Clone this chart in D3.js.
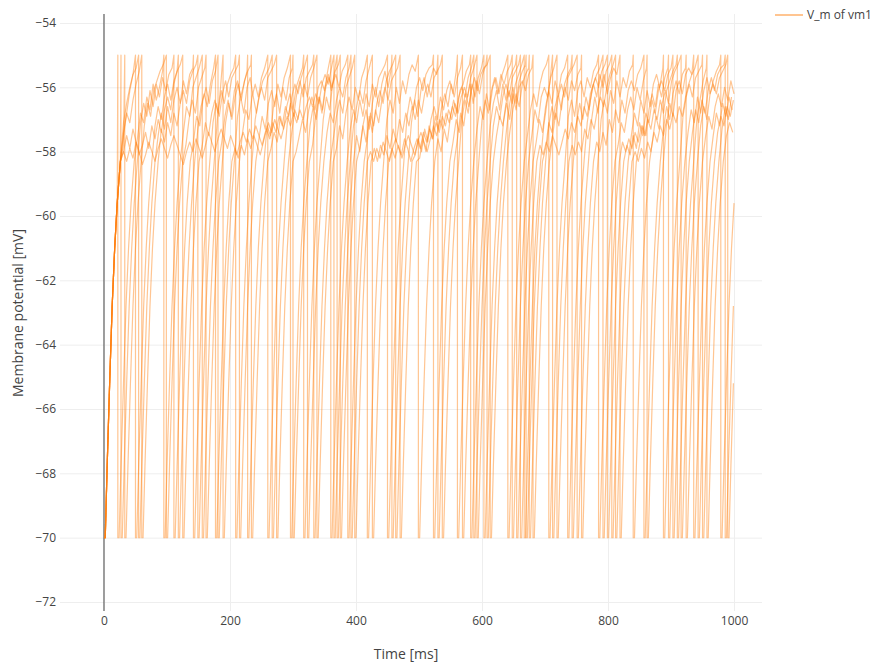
<!DOCTYPE html>
<html>
<head>
<meta charset="utf-8">
<script src="https://cdn.jsdelivr.net/npm/d3@7"></script>
<style>
  body { margin: 0; background: #fff; }
  svg { font-family: "Open Sans", sans-serif; }
</style>
</head>
<body>
<svg id="vm-chart"></svg>
<script>
/*--------------------------------------------------------------------------------
----- MEMBRANE POTENTIAL TRACES (V_m of vm1)
--------------------------------------------------------------------------------*/

// Threshold, reset value and simulation end
const v_threshold = -55, v_reset = -70, t_end = 1000;

// Shape of the rise after a reset (ms after reset / mV)
const rise_offsets = [0, 2, 5, 9, 13, 17, 21, 26];
const rise_values = [-70, -70, -67.8, -65.2, -62.8, -61.0, -59.6, -58.3];

// Time between two plateau samples (ms)
const plateau_step = 5;

// Spike times (ms) of each recorded neuron
const n0_spikes = [22, 95, 156, 228, 300, 370, 457, 530, 608, 670, 743, 819, 896, 979];
const n1_spikes = [27, 111, 181, 267, 338, 418, 499, 582, 655, 736, 806, 888, 950];
const n2_spikes = [33, 99, 162, 234, 317, 387, 463, 561, 641, 706, 785, 862, 936];
const n3_spikes = [50, 125, 209, 274, 360, 450, 523, 603, 681, 758, 840, 916, 990];
const n4_spikes = [55, 142, 215, 296, 375, 470, 569, 648, 719, 799, 903, 986];
const n5_spikes = [60, 149, 189, 260, 333, 398, 537, 613, 675, 751, 857, 924];
const n6_spikes = [118, 177, 323, 392, 587, 661, 792, 910, 957];
const n7_spikes = [365, 426, 592, 667, 712, 812, 943];

// Sub-threshold samples (mV) between two spikes, one list per interval
const n0_plateau = [
    [],
    [-57.6, -56.8, -57.1, -56.3, -56.7, -55.9, -56.4, -56.0, -55.5],
    [-57.4, -56.6, -56.9, -56.0, -55.7, -55.4],
    [-57.7, -56.9, -56.4, -56.9, -56.1, -55.8, -56.3, -55.9, -55.5],
    [-57.2, -57.5, -56.6, -56.2, -56.8, -56.0, -56.4, -55.7, -55.4],
    [-57.8, -56.9, -56.3, -56.8, -56.0, -55.6, -56.1, -55.5],
    [-57.5, -58.0, -57.2, -56.7, -57.3, -56.5, -56.0, -56.6, -55.9, -55.5, -56.0, -55.4],
    [-57.1, -56.4, -56.9, -56.1, -55.7, -56.3, -55.8, -55.4, -55.6],
    [-57.6, -56.8, -57.2, -56.4, -55.9, -56.5, -55.8, -56.2, -55.6, -55.3],
    [-57.3, -56.5, -56.0, -56.5, -55.8, -55.5, -55.3],
    [-57.9, -57.1, -57.4, -56.6, -56.2, -56.7, -55.9, -55.6, -55.4],
    [-57.0, -56.3, -56.8, -56.0, -55.6, -56.2, -55.7, -55.4, -55.6],
    [-57.8, -57.2, -57.5, -56.7, -56.2, -56.6, -55.9, -56.3, -55.7, -55.4],
    [-57.4, -56.7, -57.1, -56.3, -56.8, -56.1, -55.7, -56.2, -55.8, -55.5, -55.3],
    []
];
const n1_plateau = [
    [],
    [-57.1, -56.5, -56.9, -56.1, -56.6, -55.9, -56.3, -55.7, -56.1, -55.6, -55.4],
    [-57.7, -56.9, -57.2, -56.4, -56.0, -56.5, -55.8, -55.5],
    [-56.9, -56.3, -56.8, -56.0, -55.7, -56.3, -56.8, -56.2, -55.8, -55.6, -55.4],
    [-57.4, -56.7, -57.0, -56.2, -55.9, -56.3, -55.7, -55.4],
    [-57.9, -57.2, -57.6, -56.8, -56.3, -56.7, -56.0, -56.4, -55.7, -55.4],
    [-57.0, -56.4, -56.8, -56.0, -56.5, -55.8, -56.2, -55.6, -55.3, -55.5],
    [-57.6, -58.0, -57.3, -57.7, -56.9, -56.4, -56.8, -56.1, -55.9, -55.5, -55.3],
    [-57.2, -56.5, -56.1, -56.7, -55.9, -56.4, -55.8, -55.5, -55.3],
    [-57.7, -57.0, -57.4, -56.6, -56.1, -56.5, -55.8, -56.2, -55.6, -55.4],
    [-57.1, -56.4, -55.9, -56.3, -55.6, -56.0, -55.5, -55.3],
    [-57.5, -56.8, -57.2, -56.4, -56.8, -56.1, -56.6, -55.9, -55.6, -56.0, -55.4],
    [-56.9, -56.3, -55.9, -56.3, -55.7, -55.5, -55.3],
    [-57.3, -56.6, -57.0, -56.3]
];
const n2_plateau = [
    [-57.8],
    [-57.2, -56.5, -56.9, -56.1, -55.8, -55.5, -55.3],
    [-57.8, -57.0, -56.4, -56.8, -56.0, -55.7, -55.4],
    [-57.1, -56.5, -57.0, -56.3, -55.9, -56.4, -55.8, -55.5, -55.3],
    [-57.9, -57.4, -57.7, -56.9, -57.3, -56.6, -56.2, -56.7, -56.0, -55.7, -55.4],
    [-57.0, -56.3, -56.7, -55.9, -55.6, -56.0, -55.5, -55.3],
    [-57.6, -56.8, -57.2, -56.5, -56.1, -56.5, -55.8, -55.5, -55.3],
    [-58.1, -57.6, -58.0, -57.3, -57.7, -57.0, -56.6, -57.0, -56.3, -56.7, -56.1, -55.8, -56.2, -55.5],
    [-57.3, -56.6, -57.0, -56.2, -56.7, -56.0, -55.7, -56.2, -55.6, -55.3],
    [-57.5, -56.7, -56.2, -56.6, -55.9, -55.5, -55.3],
    [-56.9, -56.4, -56.9, -56.1, -55.8, -56.3, -55.7, -56.0, -55.5, -55.3],
    [-57.8, -57.1, -57.4, -56.7, -56.3, -56.7, -56.0, -56.4, -55.8, -55.4],
    [-57.1, -56.5, -56.9, -56.1, -55.8, -56.2, -55.6, -55.4, -55.6],
    [-57.5, -56.8, -57.2, -56.5, -56.9, -56.3, -56.7]
];
const n3_plateau = [
    [-57.4, -56.8, -56.1, -55.6],
    [-57.2, -56.6, -57.0, -56.3, -55.9, -56.4, -55.8, -55.5, -55.3],
    [-57.8, -57.1, -57.5, -56.8, -56.4, -56.8, -56.1, -56.5, -55.9, -55.6, -55.4],
    [-57.0, -56.4, -56.0, -56.4, -55.7, -55.5, -55.3],
    [-58.0, -57.5, -57.0, -57.4, -56.7, -56.3, -56.7, -56.0, -55.8, -56.1, -55.5],
    [-57.3, -56.7, -57.1, -56.4, -56.9, -56.2, -56.6, -55.9, -56.3, -55.7, -55.5, -55.3],
    [-56.9, -56.3, -56.7, -56.0, -55.7, -56.1, -55.6, -55.4, -55.3],
    [-57.7, -57.0, -57.4, -56.6, -56.2, -56.6, -55.9, -56.3, -55.7, -55.4],
    [-57.1, -56.5, -57.0, -56.2, -56.7, -56.0, -55.8, -56.1, -55.6, -55.4],
    [-57.5, -56.8, -57.2, -56.4, -56.0, -56.4, -55.8, -56.1, -55.6, -55.4],
    [-57.0, -56.4, -56.8, -56.1, -56.5, -55.8, -56.3, -55.7, -56.0, -55.5, -55.3],
    [-57.6, -56.9, -57.3, -56.5, -56.1, -56.5, -55.8, -55.5, -55.3],
    [-57.2, -56.6, -57.0, -56.2, -55.9, -56.2, -55.7, -55.5, -55.3],
    []
];
const n4_plateau = [
    [-57.1, -56.5, -56.0, -55.6, -55.4],
    [-57.5, -56.8, -57.3, -56.6, -57.1, -56.4, -56.0, -56.5, -55.8, -56.2, -55.6, -55.4],
    [-57.1, -56.5, -56.9, -56.2, -55.8, -56.3, -55.7, -55.5, -55.3],
    [-57.6, -56.9, -57.3, -56.5, -56.1, -56.6, -55.9, -56.3, -55.7, -55.4],
    [-57.2, -56.6, -57.0, -56.3, -56.7, -56.0, -55.7, -56.0, -55.5, -55.3],
    [-57.9, -57.2, -57.7, -56.9, -57.4, -56.7, -57.1, -56.4, -56.0, -56.4, -55.8, -55.6, -55.4],
    [-58.2, -57.6, -58.0, -57.2, -57.6, -56.9, -57.3, -56.6, -56.2, -56.6, -55.9, -56.3, -55.7, -55.4],
    [-57.0, -56.4, -56.8, -56.1, -55.7, -56.2, -55.6, -55.9, -55.5, -55.3],
    [-57.5, -56.7, -57.1, -56.3, -56.0, -56.3, -55.7, -55.4],
    [-57.1, -56.5, -57.0, -56.3, -56.7, -56.0, -55.7, -56.0, -55.5, -55.3],
    [-57.8, -58.1, -57.5, -57.9, -57.1, -57.5, -56.8, -57.1, -56.4, -56.8, -56.1, -55.8, -56.1, -55.6, -55.4],
    [-57.4, -56.7, -57.1, -56.4, -56.8, -56.1, -55.7, -56.1, -55.6, -55.4, -55.3],
    []
];
const n5_plateau = [
    [-57.5, -56.8, -57.1, -56.4, -55.9, -55.5],
    [-57.3, -57.7, -57.1, -57.5, -56.8, -57.2, -56.5, -56.1, -56.5, -55.8, -55.5, -55.3],
    [-57.0, -56.0],
    [-57.4, -56.7, -57.0, -56.3, -55.9, -56.3, -55.7, -55.4],
    [-57.1, -56.5, -56.9, -56.2, -55.8, -56.3, -55.7, -55.5, -55.3],
    [-57.6, -56.9, -56.4, -56.8, -56.0, -55.7, -55.4],
    [-57.9, -58.3, -57.8, -58.1, -57.5, -57.9, -57.3, -57.7, -57.0, -57.4, -56.8, -57.2, -56.6, -57.0, -56.4,
     -56.8, -56.2, -55.9, -56.3, -55.7, -55.5, -55.3],
    [-57.0, -56.4, -56.8, -56.1, -55.7, -56.1, -55.6, -55.4, -55.3],
    [-57.4, -56.7, -56.2, -56.6, -55.9, -55.6, -55.4],
    [-57.2, -56.6, -57.0, -56.3, -55.9, -56.3, -55.7, -55.5, -55.3],
    [-57.7, -58.0, -57.4, -57.8, -57.0, -57.4, -56.7, -57.1, -56.4, -56.8, -56.1, -55.8, -56.1, -55.6, -55.4],
    [-57.3, -56.6, -57.0, -56.2, -55.8, -56.2, -55.6, -55.4],
    [-57.5, -56.9, -57.3, -56.6, -56.2, -56.6, -56.0, -56.4, -55.8, -56.2]
];
const n6_plateau = [
    [-58.0, -57.5, -57.9, -57.3, -57.7, -58.1, -57.8, -57.4, -57.9, -57.2, -57.6, -57.0, -57.4, -56.7, -56.3,
     -56.7, -55.9, -55.5],
    [-57.3, -56.6, -56.2, -56.6, -55.9, -55.4],
    [-57.9, -58.2, -57.8, -58.1, -57.6, -57.9, -57.5, -57.8, -58.1, -57.7, -57.3, -57.6, -57.1, -57.4, -56.9,
     -57.2, -56.6, -56.9, -56.3, -55.9, -56.2, -55.7, -55.4],
    [-57.4, -56.8, -57.1, -56.4, -56.0, -56.3, -55.7, -55.4],
    [-58.0, -58.3, -57.9, -58.2, -57.7, -58.0, -58.3, -57.9, -57.6, -57.9, -58.2, -57.8, -57.5, -57.8, -58.1,
     -57.7, -57.4, -57.7, -58.0, -57.6, -57.2, -57.5, -57.0, -57.3, -56.8, -57.1, -56.6, -56.9, -56.3, -56.0,
     -56.3, -55.7, -55.4],
    [-57.2, -56.6, -57.0, -56.3, -55.9, -56.3, -55.7, -55.5, -55.3],
    [-57.8, -58.1, -57.7, -58.0, -57.5, -57.8, -58.1, -57.7, -57.3, -57.6, -57.1, -57.4, -56.9, -57.2, -56.6,
     -56.9, -56.2, -55.9, -55.6, -55.4],
    [-57.7, -58.0, -57.6, -57.9, -57.4, -57.7, -57.2, -57.5, -57.0, -57.3, -56.7, -57.0, -56.4, -56.8, -56.1,
     -55.8, -55.5, -55.3],
    [-57.0, -56.4, -55.8, -55.4],
    [-57.5, -57.1, -57.4]
];
const n7_plateau = [
    [-58.0, -58.3, -57.9, -58.2, -57.7, -58.0, -58.4, -58.1, -57.7, -58.0,
     -58.3, -57.9, -57.6, -57.9, -58.2, -57.8, -57.5, -57.8, -58.1, -58.4,
     -58.0, -57.7, -58.0, -57.6, -57.9, -58.2, -57.8, -57.4, -57.7, -58.0,
     -57.6, -57.3, -57.6, -57.9, -57.5, -57.8, -58.1, -57.7, -57.4, -57.7,
     -57.3, -57.6, -57.2, -57.5, -57.8, -57.4, -57.1, -57.4, -57.0, -57.3,
     -57.6, -57.2, -56.9, -57.2, -56.8, -57.1, -56.7, -57.0, -56.6, -56.3,
     -56.6, -56.2, -56.5, -55.9, -55.6, -55.9, -55.4],
    [-57.2, -56.6, -56.1, -56.5, -55.8, -55.4],
    [-57.9, -58.2, -57.8, -58.1, -57.6, -57.9, -58.3, -57.9, -57.6, -57.9, -57.4, -57.7, -57.3, -57.6, -57.1,
     -57.4, -56.9, -57.2, -56.7, -57.0, -56.5, -56.8, -56.3, -56.0, -56.3, -55.7, -55.4],
    [-57.5, -56.9, -57.2, -56.5, -56.1, -56.5, -55.9, -55.6, -55.3],
    [-57.2, -56.5, -55.8],
    [-57.8, -58.1, -57.7, -58.0, -57.3, -57.6, -57.0, -57.3, -56.7, -56.3, -56.6, -56.0, -55.6, -55.3],
    [-58.0, -58.3, -57.9, -58.2, -57.7, -58.0, -57.4, -57.7, -57.2, -57.5, -57.0, -57.3, -56.8, -57.1, -56.6,
     -56.9, -56.3, -55.9, -55.6, -55.4],
    [-57.4, -56.9, -57.2, -56.6, -56.9, -56.4]
];

// Axis ticks and texts
const x_ticks = [0, 200, 400, 600, 800, 1000];
const y_ticks = [-72, -70, -68, -66, -64, -62, -60, -58, -56, -54];
const x_title = "Time [ms]";
const y_title = "Membrane potential [mV]";
const legend_label = "V_m of vm1";

// Group the neurons together
const neurons = [
    { spikes: n0_spikes, plateau: n0_plateau },
    { spikes: n1_spikes, plateau: n1_plateau },
    { spikes: n2_spikes, plateau: n2_plateau },
    { spikes: n3_spikes, plateau: n3_plateau },
    { spikes: n4_spikes, plateau: n4_plateau },
    { spikes: n5_spikes, plateau: n5_plateau },
    { spikes: n6_spikes, plateau: n6_plateau },
    { spikes: n7_spikes, plateau: n7_plateau }
];

// Function to turn spike times and plateau samples into a list of [t, v] points
function build_trace(spikes, plateau) {
    const points = [];
    const starts = [0].concat(spikes);
    const ends = spikes.concat([t_end]);
    const rise_length = rise_offsets[rise_offsets.length - 1];

    starts.forEach((start, k) => {
        const end = ends[k];
        const is_last = k === spikes.length;
        const keep = t => is_last ? t <= end : t < end;

        // Rise after the reset
        rise_offsets.forEach((o, j) => {
            if (keep(start + o)) points.push([start + o, rise_values[j]]);
        });

        // Fluctuations below the threshold
        (plateau[k] || []).forEach((v, j) => {
            const t = start + rise_length + plateau_step * (j + 1);
            if (keep(t)) points.push([t, v]);
        });

        // Spike: reach the threshold and drop to the reset value
        if (!is_last) {
            points.push([end, v_threshold]);
            points.push([end, v_reset]);
        }
    });
    return points;
}

// Configure the dimensions of the chart
const width = 875, height = 662;
const plot = { left: 60, right: 762, top: 14, bottom: 611 };

// Scales
const x_scale = d3.scaleLinear()
    .domain([-69.8, 1044.4])
    .range([plot.left, plot.right]);
const y_scale = d3.scaleLinear()
    .domain([-72.28, -53.72])
    .range([plot.bottom, plot.top]);

const svg = d3.select("#vm-chart")
    .attr("width", width)
    .attr("height", height);

svg.append("rect")
    .attr("width", width)
    .attr("height", height)
    .attr("fill", "#fff");

// Grid lines
const x_axis = d3.axisBottom(x_scale)
    .tickValues(x_ticks)
    .tickSize(-(plot.bottom - plot.top))
    .tickFormat(d3.format("d"));
const y_axis = d3.axisLeft(y_scale)
    .tickValues(y_ticks)
    .tickSize(-(plot.right - plot.left))
    .tickFormat(d => d3.format("d")(d).replace("-", "\u2212"));

const x_axis_group = svg.append("g")
    .attr("transform", `translate(0, ${plot.bottom})`)
    .call(x_axis);
x_axis_group.select(".domain").remove();
x_axis_group.selectAll(".tick line").attr("stroke", "#eee");
x_axis_group.selectAll(".tick text")
    .attr("y", 14)
    .attr("dy", 0)
    .style("font-family", "\"Open Sans\", sans-serif")
    .style("font-size", "12px")
    .attr("fill", "#444");

const y_axis_group = svg.append("g")
    .attr("transform", `translate(${plot.left}, 0)`)
    .call(y_axis);
y_axis_group.select(".domain").remove();
y_axis_group.selectAll(".tick line").attr("stroke", "#eee");
y_axis_group.selectAll(".tick text")
    .attr("x", -4)
    .style("font-family", "\"Open Sans\", sans-serif")
    .style("font-size", "12px")
    .attr("fill", "#444");

// Zero line of the time axis
svg.append("line")
    .attr("x1", x_scale(0))
    .attr("x2", x_scale(0))
    .attr("y1", plot.top)
    .attr("y2", plot.bottom)
    .attr("stroke", "#444")
    .attr("stroke-width", 1);

// Clip the traces to the plotting area
svg.append("clipPath")
    .attr("id", "plot-clip")
    .append("rect")
    .attr("x", plot.left)
    .attr("y", plot.top)
    .attr("width", plot.right - plot.left)
    .attr("height", plot.bottom - plot.top);

const line = d3.line()
    .x(d => x_scale(d[0]))
    .y(d => y_scale(d[1]));

const trace_color = "#ff7f0e";

svg.append("g")
    .attr("clip-path", "url(#plot-clip)")
    .selectAll(".trace")
    .data(neurons)
    .enter()
    .append("path")
    .attr("class", "trace")
    .attr("d", d => line(build_trace(d.spikes, d.plateau)))
    .attr("fill", "none")
    .attr("stroke", trace_color)
    .attr("stroke-width", 1.2)
    .attr("stroke-linejoin", "round")
    .attr("opacity", 0.45);

// Axis titles
svg.append("text")
    .attr("x", 406)
    .attr("y", 659)
    .attr("text-anchor", "middle")
    .style("font-size", "14px")
    .attr("fill", "#444")
    .text(x_title);

svg.append("text")
    .attr("transform", "translate(23, 313) rotate(-90)")
    .attr("text-anchor", "middle")
    .style("font-size", "14px")
    .attr("fill", "#444")
    .text(y_title);

// Legend
const legend = svg.append("g")
    .attr("transform", "translate(775, 15)");
legend.append("line")
    .attr("x1", 0)
    .attr("x2", 28)
    .attr("stroke", trace_color)
    .attr("stroke-width", 2)
    .attr("opacity", 0.45);
legend.append("text")
    .attr("x", 32)
    .attr("dy", "0.35em")
    .style("font-size", "12px")
    .attr("fill", "#444")
    .text(legend_label);
</script>
</body>
</html>
